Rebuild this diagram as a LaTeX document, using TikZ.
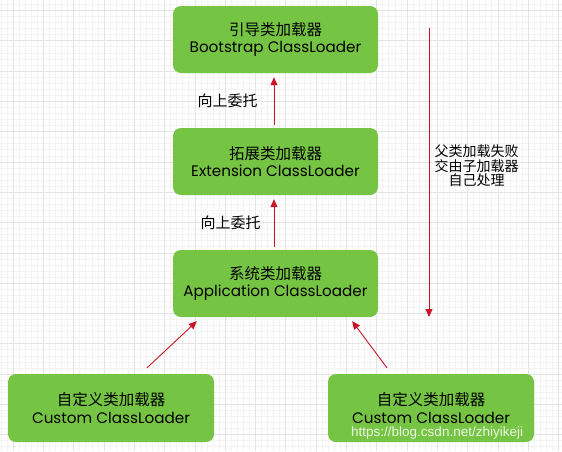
\documentclass[tikz,border=0pt]{standalone}
\usepackage{fontspec}
\setmainfont{Poppins}
\newfontfamily\cjk{Noto Sans CJK SC}
\newfontfamily\urlfont{Liberation Sans}
\usetikzlibrary{arrows.meta}
\definecolor{loadergreen}{RGB}{118,196,68}
\definecolor{delegred}{RGB}{200,22,40}
\definecolor{gridfine}{RGB}{243,243,243}
\definecolor{gridbold}{RGB}{228,228,228}
\def\loadertext#1#2{{\cjk\fontsize{15.5}{17.5}\selectfont #1}\\#2}
\tikzset{
  loader/.style={fill=loadergreen, rounded corners=8pt, minimum width=205pt,
    minimum height=67pt, align=center, inner sep=0pt,
    font=\fontsize{15.2}{17.5}\selectfont},
  delegate/.style={draw=delegred, line width=0.9pt,
    -{Triangle[length=8pt,width=7pt]}},
  tag/.style={font=\cjk\fontsize{15}{16}\selectfont},
}

\begin{document}
\begin{tikzpicture}[x=1pt, y=-1pt]
			%%%%% BACKGROUND %%%%%
			\useasboundingbox (0,0) rectangle (562,451);
			\fill[white] (0,0) rectangle (562,451);
			\foreach \i in {0,...,93} \draw[gridfine, line width=0.5pt] ({0.88+6.06*\i},0) -- ({0.88+6.06*\i},451);
			\foreach \i in {0,...,74} \draw[gridfine, line width=0.5pt] (0,{4.3+6.06*\i}) -- (562,{4.3+6.06*\i});
			\foreach \i in {0,...,18} \draw[gridbold, line width=0.6pt] ({13+30.3*\i},0) -- ({13+30.3*\i},451);
			\foreach \i in {0,...,14} \draw[gridbold, line width=0.6pt] (0,{10.4+30.3*\i}) -- (562,{10.4+30.3*\i});
			
			%%%%% LOADERS %%%%%
			\node[loader] (boot) at (275.5, 39.5) {\loadertext{引导类加载器}{Bootstrap ClassLoader}};
			\node[loader] (ext) at (275.5, 161.5) {\loadertext{拓展类加载器}{Extension ClassLoader}};
			\node[loader] (app) at (275.5, 283.5) {\loadertext{系统类加载器}{Application ClassLoader}};
			\node[loader, minimum width=206pt, minimum height=68pt] (custa) at (111, 408) {\loadertext{自定义类加载器}{Custom ClassLoader}};
			\node[loader, minimum width=206pt, minimum height=68pt] (custb) at (431, 408) {\loadertext{自定义类加载器}{Custom ClassLoader}};
			
			%%%%% DELEGATION %%%%%
			\draw[delegate] ([shift={(-1.5pt,3pt)}]ext.north) -- ([shift={(-1.5pt,-4pt)}]boot.south);
			\draw[delegate] ([shift={(-1.5pt,3pt)}]app.north) -- ([shift={(-1.5pt,-4pt)}]ext.south);
			\draw[delegate] ([shift={(36pt,6pt)}]custa.north) -- ([shift={(24pt,-4pt)}]app.south west);
			\draw[delegate] ([shift={(-44pt,6pt)}]custb.north) -- ([shift={(-26pt,-4pt)}]app.south east);
			
			\node[tag] (upa) at (227.5, 101) {向上委托};
			\node[tag] (upb) at (230.5, 223) {向上委托};
			
			%%%%% FALLBACK %%%%%
			\coordinate (fbtop) at (429, 28);
			\coordinate (fbend) at (429, 317);
			\draw[delegate, line width=0.8pt] (fbtop) -- (fbend);
			\node[align=center, font=\cjk\fontsize{14}{14.5}\selectfont] (fallback) at (476.5, 166) {父类加载失败\\交由子加载器\\自己处理};
			
			%%%%% WATERMARK %%%%%
			\node[anchor=west, inner sep=0pt, text=white, text opacity=0.85, font=\urlfont\fontsize{13.5}{14}\selectfont] (mark) at (351, 433) {https://blog.csdn.net/zhiyikeji};
\end{tikzpicture}
\end{document}
